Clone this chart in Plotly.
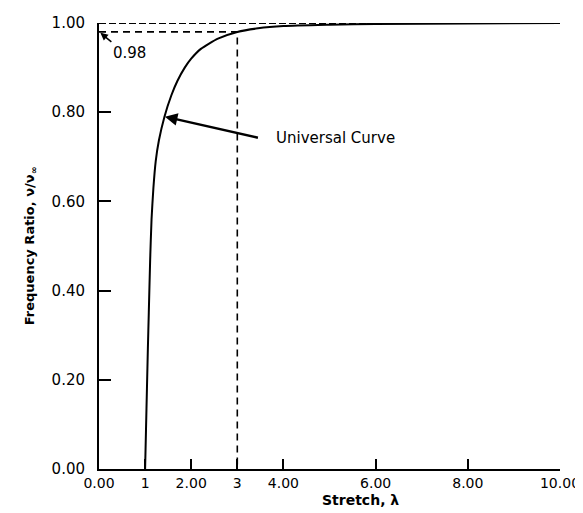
import plotly.graph_objects as go

# Universal curve
stretch = [1.0, 1.02, 1.04, 1.06, 1.08, 1.11, 1.14, 1.18, 1.23, 1.30, 1.42, 1.57, 1.70, 1.86, 2.0, 2.21, 2.58, 3.0, 3.45, 4.0, 5.0, 6.0, 8.0, 10.0]
freq_ratio = [0.0, 0.09, 0.18, 0.27, 0.35, 0.47, 0.56, 0.63, 0.69, 0.737, 0.790, 0.838, 0.870, 0.900, 0.920, 0.942, 0.965, 0.980, 0.988, 0.993, 0.996, 0.998, 0.999, 1.0]

x_tickvals = [0, 1, 2, 3, 4, 6, 8, 10]
x_ticktext = ["0.00", "1", "2.00", "3", "4.00", "6.00", "8.00", "10.00"]
y_tickvals = [0, 0.2, 0.4, 0.6, 0.8, 1.0]
y_ticktext = ["0.00", "0.20", "0.40", "0.60", "0.80", "1.00"]

ref_x = [0, 3, 3]
ref_y = [0.98, 0.98, 0.0]
top_x = [0, 10]
top_y = [1.0, 1.0]

FONT = "DejaVu Sans"
W, H = 583, 513
ML, MR, MT, MB = 91, 31, 15, 52
PW, PH = W - ML - MR, H - MT - MB


def px_to_paper(px, py):
    return (px - ML) / PW, (H - MB - py) / PH


fig = go.Figure()
fig.add_trace(go.Scatter(x=top_x, y=top_y, mode="lines",
                         line=dict(color="black", width=2, dash="7px,3px"),
                         hoverinfo="skip", showlegend=False))
fig.add_trace(go.Scatter(x=ref_x, y=ref_y, mode="lines",
                         line=dict(color="black", width=1.6, dash="7px,5px"),
                         hoverinfo="skip", showlegend=False))
fig.add_trace(go.Scatter(x=stretch, y=freq_ratio, mode="lines",
                         line=dict(color="black", width=2, shape="spline", smoothing=0.6),
                         showlegend=False))

# "Universal Curve" label with arrow to the curve
fig.add_annotation(x=1.43, y=0.79, xref="x", yref="y", ax=93, ay=21,
                   xanchor="left", yanchor="middle", borderpad=17,
                   showarrow=True, arrowhead=2, arrowsize=1, arrowwidth=2.5,
                   arrowcolor="black", text="Universal Curve",
                   font=dict(family=FONT, size=15, color="black"))
# "0.98" label with arrow to the axis
fig.add_annotation(x=0.03, y=0.978, xref="x", yref="y", ax=11, ay=9,
                   xanchor="left", yanchor="top", borderpad=1,
                   showarrow=True, arrowhead=2, arrowsize=1, arrowwidth=1.5,
                   arrowcolor="black", text="0.98",
                   font=dict(family=FONT, size=15, color="black"))
tx, ty = px_to_paper(352, 502)
fig.add_annotation(x=tx, y=ty, xref="paper", yref="paper", showarrow=False,
                   text="<b>Stretch, λ</b>", font=dict(family=FONT, size=14, color="black"))

fig.update_layout(
    width=W, height=H,
    margin=dict(l=ML, r=MR, t=MT, b=MB, autoexpand=False),
    paper_bgcolor="white", plot_bgcolor="white",
    font=dict(family=FONT, size=15, color="black"),
    xaxis=dict(range=[0, 10], tickvals=x_tickvals, ticktext=x_ticktext,
               ticks="inside", ticklen=10, tickwidth=1.5, tickcolor="black",
               showline=True, linecolor="black", linewidth=2, automargin=False,
               tickfont=dict(size=14),
               showgrid=False, zeroline=False, ticklabelstandoff=0),
    yaxis=dict(range=[0, 1.0], tickvals=y_tickvals, ticktext=y_ticktext,
               ticks="inside", ticklen=12, tickwidth=1.5, tickcolor="black",
               showline=True, linecolor="black", linewidth=2, automargin=False,
               showgrid=False, zeroline=False, ticklabelstandoff=9,
               title=dict(text="<b>Frequency Ratio, ν/ν<sub>∞</sub></b>",
                          font=dict(family=FONT, size=13), standoff=14)),
)

fig.write_html("out.html")
